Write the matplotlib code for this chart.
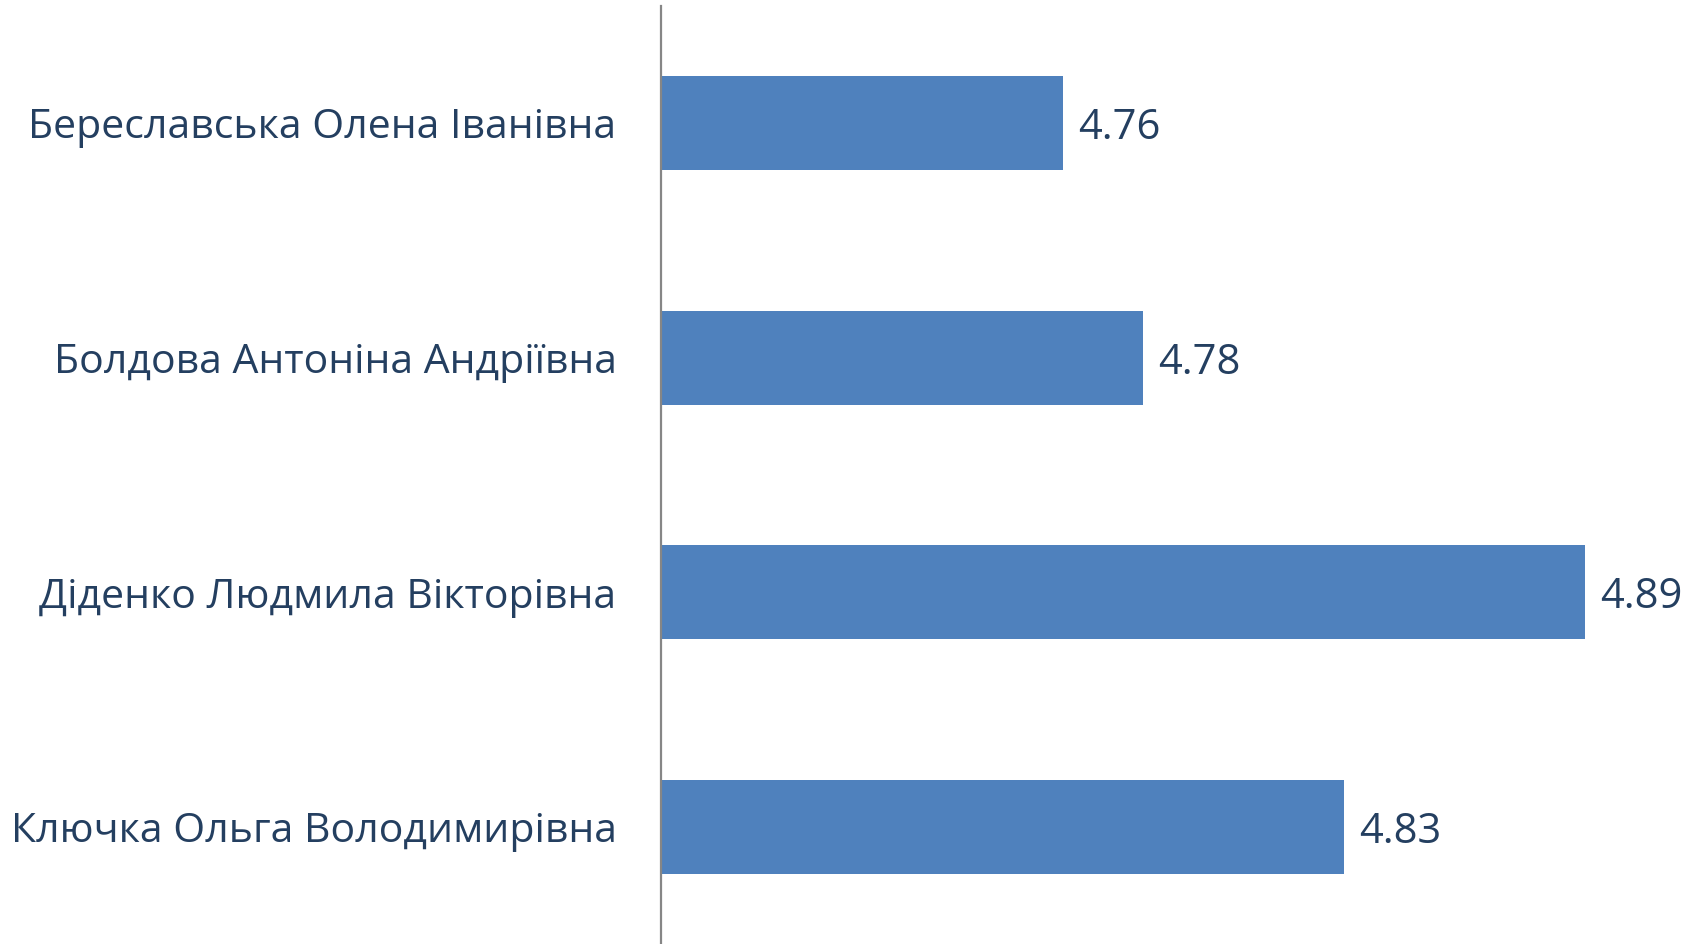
import matplotlib.pyplot as plt
import matplotlib

matplotlib.rcParams['font.family'] = ['Open Sans', 'DejaVu Sans']

names = [
    "Береславська Олена Іванівна",
    "Болдова Антоніна Андріївна",
    "Діденко Людмила Вікторівна",
    "Ключка Ольга Володимирівна",
]
scores = [4.76, 4.78, 4.89, 4.83]

text_color = '#243F60'
bar_color = '#4F81BD'

fig = plt.figure(figsize=(16.97, 9.44), dpi=100)
ax = fig.add_axes([661 / 1697, 0, 1 - 661 / 1697, 1 - 6 / 944])

y = list(range(len(names)))
ax.barh(y, scores, height=0.4, color=bar_color)
ax.set_xlim(4.66, 4.918)
ax.set_ylim(len(names) - 0.5, -0.5)

# підписи значень
for yi, v in zip(y, scores):
    ax.annotate(f"{v:.2f}", (v, yi), xytext=(11, 0), textcoords='offset points',
                va='center_baseline', ha='left', fontsize=30, color=text_color)

ax.set_yticks(y)
ax.set_yticklabels(names, fontsize=29.5, color=text_color)
ax.tick_params(axis='y', length=0, pad=32)
ax.set_xticks([])

for s in ['top', 'right', 'bottom']:
    ax.spines[s].set_visible(False)
ax.spines['left'].set_color('#868686')
ax.spines['left'].set_linewidth(1.6)

plt.savefig('out.png', dpi=100)
